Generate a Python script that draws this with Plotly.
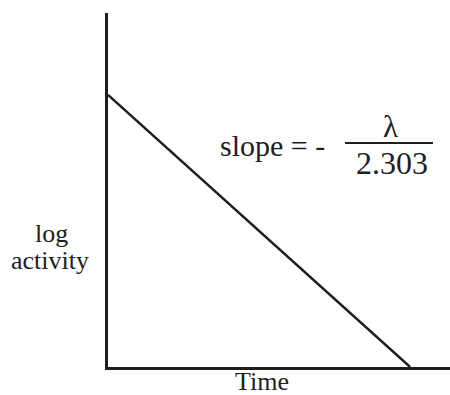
import plotly.graph_objects as go

# Radioactive decay plotted on a log scale: a straight line falling to zero
time = [0, 10]
log_activity = [10, 0]

axis_labels = {"x": "Time", "y": ["log", "activity"]}
slope_text = "slope = -"
numerator = "λ"
denominator = "2.303"

INK = "#1e1e1e"
FONT = "Liberation Serif, Times New Roman, serif"

W, H = 450, 395
L, T, B = 108, 13, 28  # plot-area offsets in pixels

fig = go.Figure()
fig.add_trace(go.Scatter(
    x=time, y=log_activity, mode="lines",
    line=dict(color=INK, width=2.5), hoverinfo="skip", showlegend=False,
))

fig.update_layout(
    width=W, height=H,
    margin=dict(l=L, r=0, t=T, b=B),
    paper_bgcolor="white", plot_bgcolor="white",
    font=dict(family=FONT, color=INK),
    xaxis=dict(range=[0, 11.32], showline=True, linecolor=INK, linewidth=3,
               showgrid=False, zeroline=False, showticklabels=False, ticks=""),
    yaxis=dict(range=[0, 13.01], showline=True, linecolor=INK, linewidth=3,
               showgrid=False, zeroline=False, showticklabels=False, ticks=""),
)

pw, ph = W - L, H - T - B


def px(x):
    return (x - L) / pw


def py(y):
    return (H - B - y) / ph


def label(text, x, y, size):
    fig.add_annotation(text=text, x=px(x), y=py(y), xref="paper", yref="paper",
                       xanchor="center", yanchor="middle", showarrow=False,
                       font=dict(size=size, family=FONT, color=INK))


label(slope_text, 272, 145, 30)
label(numerator, 390, 126, 31)
label(denominator, 392, 163, 32)
fig.add_shape(type="line", xref="paper", yref="paper",
              x0=px(345), x1=px(433), y0=py(143), y1=py(143),
              line=dict(color=INK, width=2))

label(axis_labels["y"][0], 51, 233, 26)
label(axis_labels["y"][1], 50, 260, 26)
label(axis_labels["x"], 262, 382, 26)

fig.write_html("out.html")
